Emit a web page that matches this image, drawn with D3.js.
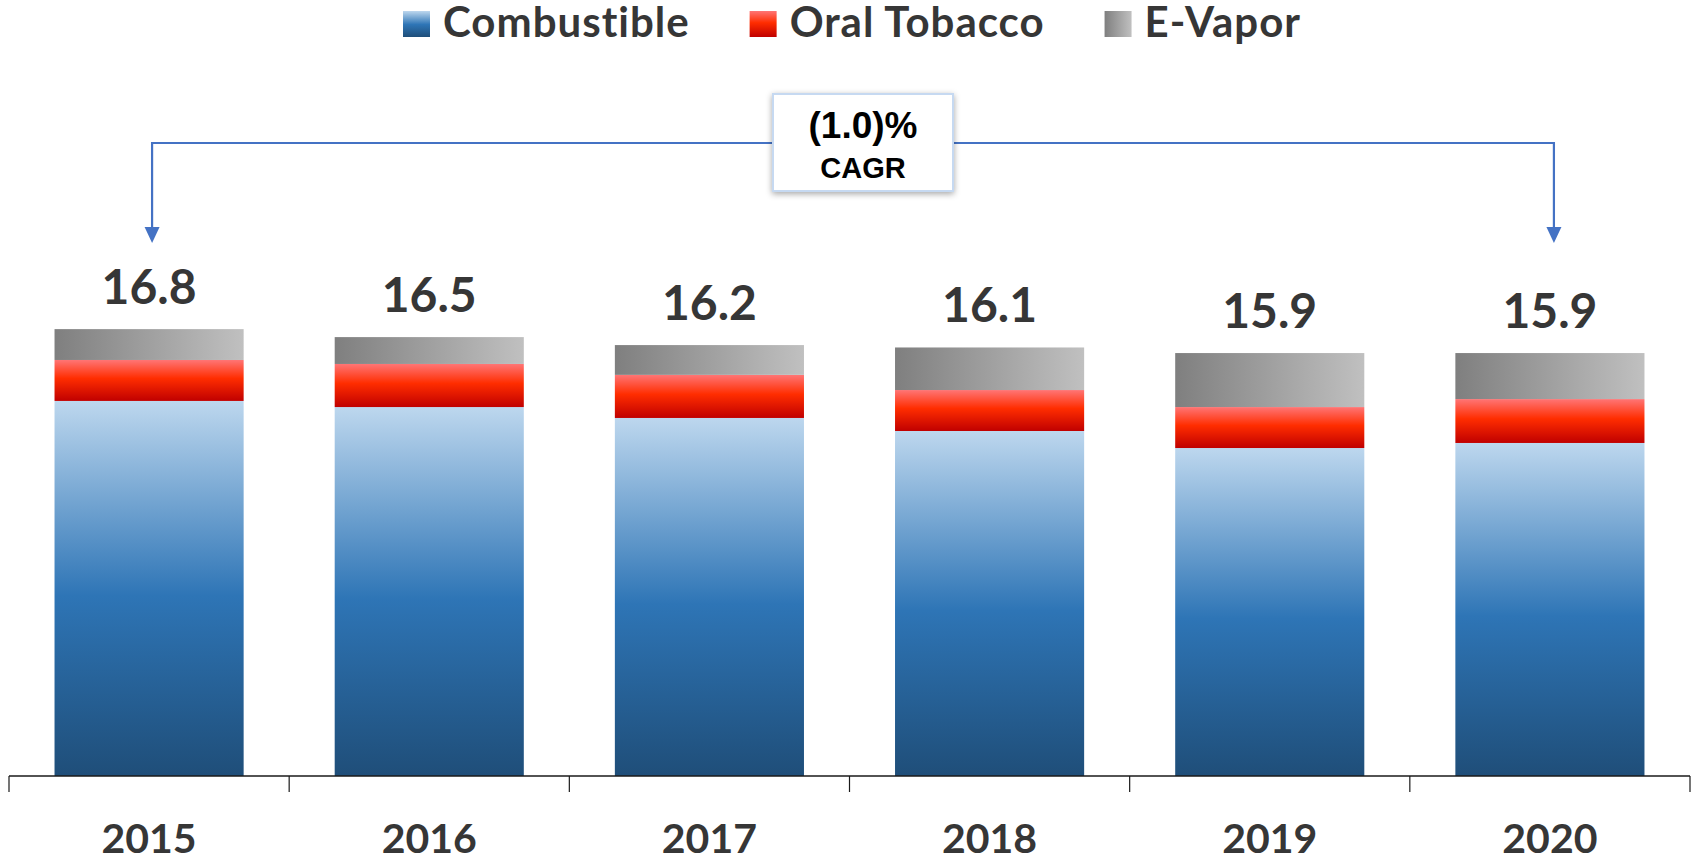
<!DOCTYPE html>
<html>
<head>
<meta charset="utf-8">
<script src="https://cdn.jsdelivr.net/npm/d3@7"></script>
<style>
  body { margin: 0; background: #fff; }
  text { font-family: Lato, "Open Sans", sans-serif; }
  text.arial { font-family: "Liberation Sans", Arial, sans-serif; }
</style>
</head>
<body>
<svg></svg>
<script>
const years = ["2015", "2016", "2017", "2018", "2019", "2020"];
const combustible = [14.10, 13.87, 13.46, 12.97, 12.33, 12.52];
const oralTobacco = [1.54, 1.62, 1.62, 1.54, 1.54, 1.65];
const eVapor = [1.16, 1.01, 1.12, 1.60, 2.03, 1.73];
const totals = ["16.8", "16.5", "16.2", "16.1", "15.9", "15.9"];
const seriesNames = ["Combustible", "Oral Tobacco", "E-Vapor"];
const cagrText = "(1.0)%";

const width = 1694, height = 864;
var svg = d3.select("svg")
    .attr("width", width)
    .attr("height", height);

const x = d3.scaleBand()
    .domain(years)
    .range([9, 1690])
    .paddingInner(0.325)
    .paddingOuter(0.1625);

const y = d3.scaleLinear()
    .domain([0, 18])
    .range([776, 776 - 18 * 26.6]);

// gradients
const defs = svg.append("defs");
const gBlue = defs.append("linearGradient").attr("id", "gBlue")
    .attr("x1", 0).attr("y1", 0).attr("x2", 0).attr("y2", 1);
gBlue.append("stop").attr("offset", "0%").attr("stop-color", "#bdd7ee");
gBlue.append("stop").attr("offset", "52%").attr("stop-color", "#2e75b6");
gBlue.append("stop").attr("offset", "100%").attr("stop-color", "#1f4e79");

const gRed = defs.append("linearGradient").attr("id", "gRed")
    .attr("x1", 0).attr("y1", 0).attr("x2", 0).attr("y2", 1);
gRed.append("stop").attr("offset", "0%").attr("stop-color", "#ff7575");
gRed.append("stop").attr("offset", "45%").attr("stop-color", "#ff2d00");
gRed.append("stop").attr("offset", "100%").attr("stop-color", "#c00000");

const gGrey = defs.append("linearGradient").attr("id", "gGrey")
    .attr("x1", 0).attr("y1", 0).attr("x2", 1).attr("y2", 0);
gGrey.append("stop").attr("offset", "0%").attr("stop-color", "#7f7f7f");
gGrey.append("stop").attr("offset", "100%").attr("stop-color", "#c0c0c0");

const fills = ["url(#gBlue)", "url(#gRed)", "url(#gGrey)"];

const shadow = defs.append("filter").attr("id", "shadow")
    .attr("x", "-20%").attr("y", "-20%").attr("width", "140%").attr("height", "140%");
shadow.append("feDropShadow").attr("dx", 0).attr("dy", 2)
    .attr("stdDeviation", 3).attr("flood-color", "#000").attr("flood-opacity", 0.35);

drawBars();
drawAxis();
drawLegend();
drawCagr();

function drawBars() {
    const rows = years.map((yr, i) => ({
        year: yr, Combustible: combustible[i], "Oral Tobacco": oralTobacco[i], "E-Vapor": eVapor[i]
    }));
    const stacked = d3.stack().keys(seriesNames)(rows);

    svg.append("g").selectAll("g")
        .data(stacked)
        .enter()
        .append("g")
        .attr("fill", (d, i) => fills[i])
        .selectAll("rect")
        .data(d => d)
        .enter()
        .append("rect")
        .attr("x", d => x(d.data.year))
        .attr("y", d => y(d[1]))
        .attr("width", x.bandwidth())
        .attr("height", d => y(d[0]) - y(d[1]));

    const top = stacked[stacked.length - 1];
    svg.append("g").selectAll("text")
        .data(top)
        .enter()
        .append("text")
        .attr("x", d => x(d.data.year) + x.bandwidth() / 2)
        .attr("y", d => y(d[1]) - 25)
        .attr("text-anchor", "middle")
        .attr("font-size", 48)
        .attr("font-weight", 700)
        .attr("fill", "#363636")
        .text((d, i) => totals[i]);
}

function drawAxis() {
    const g = svg.append("g");
    g.append("line")
        .attr("x1", x.range()[0]).attr("x2", x.range()[1])
        .attr("y1", y(0)).attr("y2", y(0))
        .attr("stroke", "#1a1a1a").attr("stroke-width", 1.5);

    const step = x.step();
    const bounds = years.map(yr => x(yr) - (step - x.bandwidth()) / 2)
        .concat([x.range()[1]]);
    g.selectAll("line.tick")
        .data(bounds)
        .enter()
        .append("line")
        .attr("class", "tick")
        .attr("x1", d => d).attr("x2", d => d)
        .attr("y1", y(0)).attr("y2", y(0) + 16)
        .attr("stroke", "#1a1a1a").attr("stroke-width", 1.2);

    g.selectAll("text")
        .data(years)
        .enter()
        .append("text")
        .attr("x", d => x(d) + x.bandwidth() / 2)
        .attr("y", 853)
        .attr("text-anchor", "middle")
        .attr("font-size", 41)
        .attr("font-weight", 700)
        .attr("fill", "#363636")
        .text(d => d);
}

function drawLegend() {
    const g = svg.append("g");
    const items = g.selectAll("g")
        .data(seriesNames)
        .enter()
        .append("g");
    items.append("rect")
        .attr("width", 27).attr("height", 26)
        .attr("y", 11)
        .attr("fill", (d, i) => fills[i]);
    items.append("text")
        .attr("x", 40)
        .attr("y", 37)
        .attr("font-size", 42)
        .attr("font-weight", 700)
        .attr("letter-spacing", 1)
        .attr("fill", "#363636")
        .text(d => d);

    // lay out horizontally, centred
    let cx = 0;
    const offs = [];
    items.each(function () {
        offs.push(cx);
        cx += 40 + this.querySelector("text").getComputedTextLength() + 60;
    });
    const total = cx - 60;
    const start = 852 - total / 2;
    items.attr("transform", (d, i) => `translate(${start + offs[i]},0)`);
}

function drawCagr() {
    const x0 = x(years[0]) + x.bandwidth() / 2 + 3;
    const x1 = x(years[years.length - 1]) + x.bandwidth() / 2 + 4;
    const lineY = 143, tipY = 243;
    const blue = "#4472c4";
    const g = svg.append("g");

    g.append("path")
        .attr("d", `M${x0},${tipY - 14} L${x0},${lineY} L${x1},${lineY} L${x1},${tipY - 14}`)
        .attr("fill", "none")
        .attr("stroke", blue)
        .attr("stroke-width", 2.2);

    [x0, x1].forEach(px => {
        g.append("path")
            .attr("d", `M${px - 7.5},${tipY - 16} L${px + 7.5},${tipY - 16} L${px},${tipY} Z`)
            .attr("fill", blue);
    });

    g.append("rect")
        .attr("x", 773).attr("y", 94)
        .attr("width", 180).attr("height", 97)
        .attr("fill", "#fff")
        .attr("stroke", "#c6d9f1")
        .attr("stroke-width", 2)
        .attr("filter", "url(#shadow)");

    g.append("text")
        .attr("class", "arial")
        .attr("x", 863).attr("y", 138)
        .attr("text-anchor", "middle")
        .attr("font-size", 37)
        .attr("font-weight", 700)
        .attr("fill", "#000")
        .text(cagrText);

    g.append("text")
        .attr("class", "arial")
        .attr("x", 863).attr("y", 178)
        .attr("text-anchor", "middle")
        .attr("font-size", 29)
        .attr("font-weight", 700)
        .attr("fill", "#000")
        .text("CAGR");
}
</script>
</body>
</html>
